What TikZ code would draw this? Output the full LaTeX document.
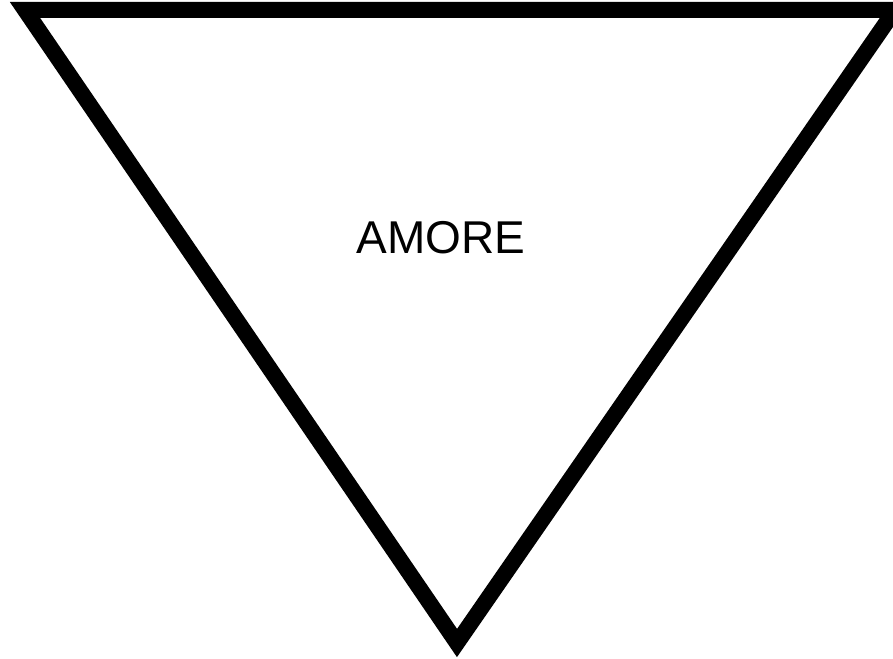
\documentclass[tikz,border=0pt]{standalone}
\usepackage{fontspec}
\setmainfont{Liberation Sans}
\begin{document}
\begin{tikzpicture}[x=1pt,y=-1pt,
  tri/.style={draw=black,line width=16pt,line join=miter,fill=white},
  lbl/.style={font=\fontsize{46}{54}\selectfont,inner sep=0pt}]
\useasboundingbox (0,0) rectangle (893,658);
\clip (0,0) rectangle (893,658);
\fill[white] (0,0) rectangle (893,658);
\coordinate (tl) at (25,10);
\coordinate (tr) at (895,10);
\coordinate (bt) at (457,643);
\draw[tri] (tl) -- (tr) -- (bt) -- cycle;
\node[lbl] (t) at (441,238) {AMORE};
\end{tikzpicture}
\end{document}
